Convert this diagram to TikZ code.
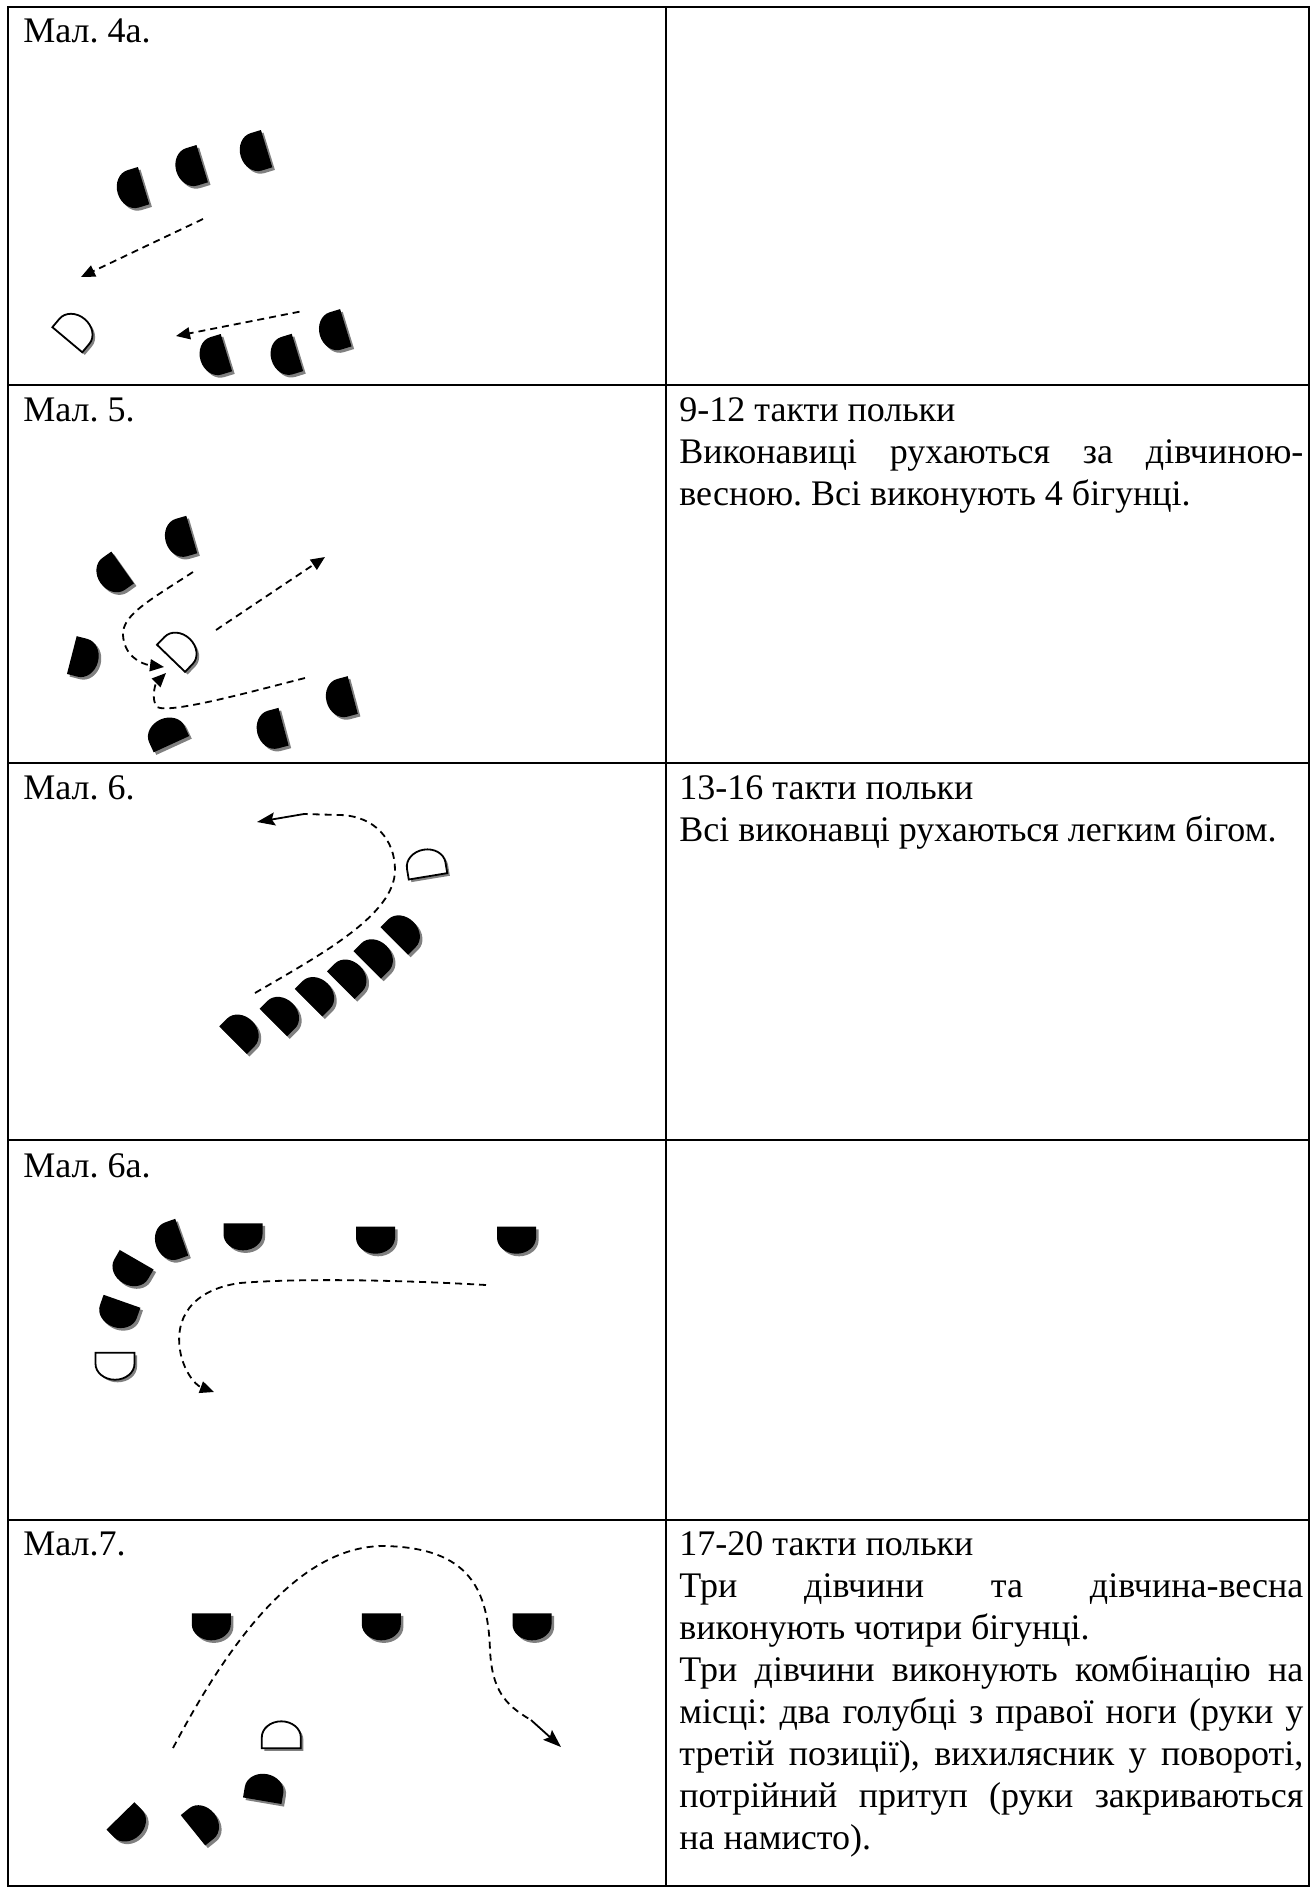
\documentclass[tikz,border=0pt]{standalone}
\usepackage{fontspec}
\setmainfont{Liberation Serif}
\usetikzlibrary{arrows.meta}
\definecolor{shadowgray}{RGB}{128,128,128}

% one dancer: flat front edge, rounded back pointing along +x (before rotation)
\newcommand\dancerpath{(-6.75pt,-9.75pt) -- (-1.25pt,-9.75pt)
  arc[start angle=-90,end angle=90,x radius=8pt,y radius=9.75pt]
  -- (-6.75pt,9.75pt) -- cycle}
\newcommand\cellfont{\fontsize{18}{21}\selectfont\frenchspacing}
\newlength\cellw
\setlength\cellw{312pt}
% a line spread over the whole cell width
\newcommand\fullline[1]{\makebox[\cellw][s]{\spaceskip=0pt\xspaceskip=0pt #1}}

\tikzset{
  pics/girl/.style={code={
    \fill[shadowgray,xshift=1.3pt,yshift=-1.3pt,rotate=#1] \dancerpath;
    \fill[black,rotate=#1] \dancerpath;}},
  pics/spring/.style={code={
    \fill[shadowgray,xshift=1.3pt,yshift=-1.3pt,rotate=#1] \dancerpath;
    \filldraw[fill=white,draw=black,line width=0.9pt,rotate=#1] \dancerpath;}},
  tableline/.style={line width=1.1pt},
  route/.style={line width=0.9pt,dash pattern=on 3.5pt off 2.5pt},
  tipT/.style={-{Triangle[length=7pt,width=6pt]}},
  tipS/.style={-{Stealth[length=9pt,width=6.5pt,inset=1.5pt]}},
  caption/.style={anchor=base west,inner sep=0pt,font=\cellfont},
  celltext/.style={anchor=base west,inner sep=0pt,font=\cellfont,
    text width=\cellw,align=justify},
}

\begin{document}
\begin{tikzpicture}[x=0.5pt,y=-0.5pt]
\useasboundingbox (0,0) rectangle (1312,1889);

% table frame
\draw[tableline] (8,7) rectangle (1309,1886);
\draw[tableline] (666,7) -- (666,1886);
\foreach \yy in {385,763,1140,1520} \draw[tableline] (8,\yy) -- (1309,\yy);

% captions of the left column
\node[caption] (m4a) at (23,43)   {Мал. 4а.};
\node[caption] (m5)  at (23,421)  {Мал. 5.};
\node[caption] (m6)  at (23,799)  {Мал. 6.};
\node[caption] (m6a) at (23,1177) {Мал. 6а.};
\node[caption] (m7)  at (23,1555) {Мал.7.};

% descriptions of the right column
\node[celltext] (d5) at (679,421) {%
  \mbox{9-12 такти польки}\\
  \fullline{Виконавиці рухаються за дівчиною-}\\
  \mbox{весною. Всі виконують 4 бігунці.}};
\node[celltext] (d6) at (679,799) {%
  \mbox{13-16 такти польки}\\
  \mbox{Всі виконавці рухаються легким бігом.}};
\node[celltext] (d7) at (679,1555) {%
  \mbox{17-20 такти польки}\\
  \fullline{Три дівчини та дівчина-весна}\\
  \mbox{виконують чотири бігунці.}\\
  \fullline{Три дівчини виконують комбінацію на}\\
  \fullline{місці: два голубці з правої ноги (руки у}\\
  \fullline{третій позиції), вихилясник у повороті,}\\
  \fullline{потрійний притуп (руки закриваються}\\
  \mbox{на намисто).}};

% ---- Мал. 4а
\pic (g4a1) at (130.7,189.6) {girl=-163};
\pic (g4a2) at (189.3,167.6) {girl=-163};
\pic (g4a3) at (253.7,152.6) {girl=-163};
\pic (g4a4) at (213.5,356.6) {girl=-163};
\pic (g4a5) at (284.5,356.4) {girl=-163};
\pic (g4a6) at (332.9,331.7) {girl=-163};
\pic (s4a)  at (76,329.4)    {spring=50};
\coordinate (r4a1s) at (203,219);
\coordinate (r4a1e) at (81,277);
\coordinate (r4a2s) at (299.5,311.7);
\coordinate (r4a2e) at (176,336);
\draw[route,tipT] (r4a1s) -- (r4a1e);
\draw[route,tipT] (r4a2s) -- (r4a2e);

% ---- Мал. 5
\pic (g5a) at (178.8,538.3) {girl=-163.7};
\pic (g5b) at (111.6,575.3) {girl=-144.7};
\pic (g5c) at (84.9,658.4)  {girl=-14.4};
\pic (g5d) at (165.8,731.9) {girl=114.6};
\pic (g5e) at (270.5,730.2) {girl=-165};
\pic (g5f) at (339.7,698.5) {girl=-165};
\pic (s5)  at (180.4,648.6) {spring=46};
\coordinate (r5as) at (193,572);
\coordinate (r5ae) at (164,667);
\coordinate (r5bs) at (305,678);
\coordinate (r5be) at (166,673);
\coordinate (r5cs) at (216,630);
\coordinate (r5ce) at (325,557);
\draw[route,tipT] (r5as) .. controls (150,600) and (122,615) .. (123,635)
  .. controls (124,655) and (140,664) .. (r5ae);
\draw[route,tipT] (r5bs) .. controls (250,692) and (170,714) .. (157,707)
  .. controls (151,700) and (155,684) .. (r5be);
\draw[route,tipT] (r5cs) -- (r5ce);

% ---- Мал. 6
\pic (g6a) at (242.6,1030.6) {girl=45};
\pic (g6b) at (283,1012.9)   {girl=45};
\pic (g6c) at (318.1,993.1)  {girl=45};
\pic (g6d) at (350.4,975.6)  {girl=45};
\pic (g6e) at (376.8,955.3)  {girl=45};
\pic (g6f) at (403.8,931.4)  {girl=45};
\pic (s6)  at (425.8,863)    {spring=99.4};
\coordinate (r6s) at (255,993);
\coordinate (r6m) at (304,814);
\coordinate (r6e) at (257,822);
\draw[route] (r6s) .. controls (320,955) and (395,915) .. (395,870)
  .. controls (395,840) and (375,816) .. (340,815) -- (r6m);
\draw[line width=0.9pt,tipS] (r6m) -- (r6e);

% ---- Мал. 6а
\pic (g6aa) at (243,1236.8)   {girl=-90};
\pic (g6ab) at (375.5,1240.2) {girl=-90};
\pic (g6ac) at (516.5,1240.2) {girl=-90};
\pic (g6ad) at (169,1241.7)   {girl=-160.5};
\pic (g6ae) at (129.9,1271.4) {girl=-120};
\pic (g6af) at (117.5,1314)   {girl=-109.4};
\pic (s6a)  at (115,1366.2)   {spring=-90};
\coordinate (r6as) at (486,1285);
\coordinate (r6ae) at (214,1392);
\draw[route,tipT] (r6as) .. controls (400,1280) and (300,1278) .. (240,1283)
  .. controls (190,1290) and (175,1320) .. (180,1350)
  .. controls (183,1370) and (195,1385) .. (r6ae);

% ---- Мал. 7
\pic (g7a) at (211.3,1626.8) {girl=-90};
\pic (g7b) at (381.3,1626.8) {girl=-90};
\pic (g7c) at (532,1626.8)   {girl=-90};
\pic (g7d) at (129.9,1825.5) {girl=-45.6};
\pic (g7e) at (203.5,1821.8) {girl=38.9};
\pic (g7f) at (264.5,1787.4) {girl=80.3};
\pic (s7)  at (281.3,1734.8) {spring=90};
\coordinate (r7s) at (173,1748);
\coordinate (r7m) at (531,1720);
\coordinate (r7e) at (561,1747);
\draw[route] (r7s) .. controls (230,1640) and (300,1545) .. (385,1546)
  .. controls (470,1548) and (488,1590) .. (490,1650)
  .. controls (492,1690) and (505,1705) .. (r7m);
\draw[line width=0.9pt,tipS] (r7m) -- (r7e);
\end{tikzpicture}
\end{document}
